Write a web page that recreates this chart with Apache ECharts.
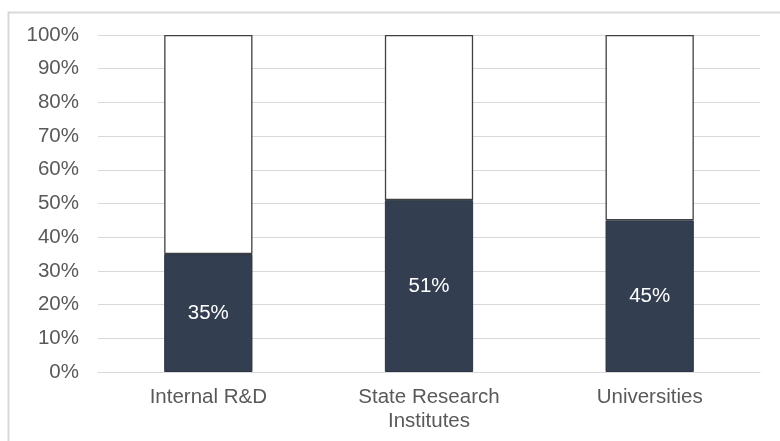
<!DOCTYPE html>
<html>
<head>
<meta charset="utf-8">
<script src="https://cdn.jsdelivr.net/npm/echarts@6/dist/echarts.min.js"></script>
<style>html,body{margin:0;padding:0;background:#fff;}#c{width:780px;height:441px;}</style>
</head>
<body>
<div id="c"></div>
<script>
const categories = ['Internal R&D', 'State Research\nInstitutes', 'Universities'];
const shareValues = [35, 51, 45];
const remainderValues = [65, 49, 55];
const yTicks = [0, 10, 20, 30, 40, 50, 60, 70, 80, 90, 100];

const FONT = 'Liberation Sans, Arial, sans-serif';
const chart = echarts.init(document.getElementById('c'), null, {renderer: 'canvas'});
chart.setOption({
  animation: false,
  backgroundColor: '#ffffff',
  graphic: [{
    type: 'rect', left: 6, top: 10, z: -1,
    shape: {width: 900, height: 600},
    style: {fill: 'none', stroke: '#d9d9d9', lineWidth: 2}
  }],
  grid: {left: 98, right: 20, top: 35, bottom: 69, containLabel: false},
  xAxis: {
    type: 'category',
    data: categories,
    axisLine: {show: true, lineStyle: {color: '#d9d9d9', width: 1}},
    axisTick: {show: false},
    axisLabel: {color: '#595959', fontSize: 20.5, fontFamily: FONT, margin: 13, lineHeight: 24}
  },
  yAxis: {
    type: 'value',
    min: 0, max: 100, interval: 10,
    axisLine: {show: false},
    axisTick: {show: false},
    splitLine: {lineStyle: {color: '#d9d9d9', width: 1}},
    axisLabel: {
      color: '#595959', fontSize: 20.5, fontFamily: FONT, margin: 19,
      formatter: v => yTicks.includes(v) ? v + '%' : ''
    }
  },
  series: [
    {
      type: 'bar', stack: 's', data: shareValues, barWidth: '40%',
      itemStyle: {color: '#333f50', borderColor: '#2b3442', borderWidth: 1},
      label: {show: true, position: 'inside', color: '#ffffff', fontSize: 20.5,
        fontFamily: FONT, formatter: p => p.value + '%'}
    },
    {
      type: 'bar', stack: 's', data: remainderValues, barWidth: '40%',
      itemStyle: {color: '#ffffff', borderColor: '#404040', borderWidth: 1.3}
    }
  ]
});
</script>
</body>
</html>
